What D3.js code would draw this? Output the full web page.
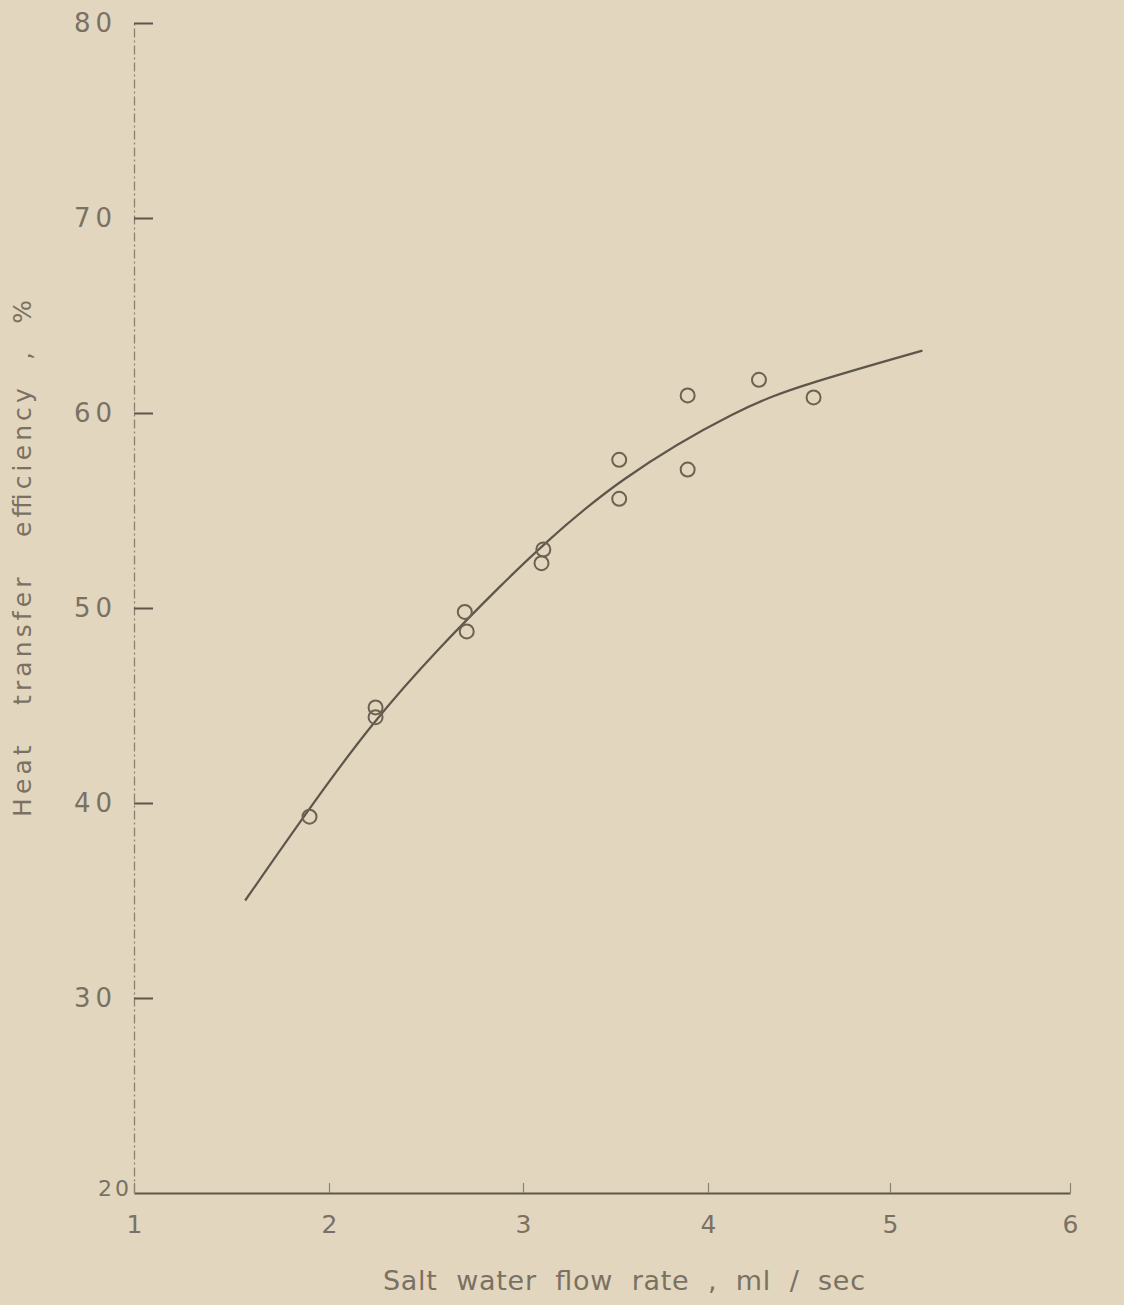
<!DOCTYPE html>
<html>
<head>
<meta charset="utf-8">
<script src="https://cdn.jsdelivr.net/npm/d3@7"></script>
<style>
  html, body { margin: 0; padding: 0; background: #e2d6bf; }
  text { font-family: "DejaVu Sans", sans-serif; fill: #7a7163; white-space: pre; }
</style>
</head>
<body>
<svg id="chart" width="1124" height="1305"></svg>
<script>
// tick values
const xTicks = [1, 2, 3, 4, 5, 6];
const yTicks = [20, 30, 40, 50, 60, 70, 80];

// measured points
const pointX = [1.90, 2.24, 2.24, 2.70, 2.71, 3.11, 3.10, 3.52, 3.52, 3.89, 3.89, 4.28, 4.58];
const pointY = [39.3, 44.9, 44.4, 49.8, 48.8, 53.0, 52.3, 57.6, 55.6, 60.9, 57.1, 61.7, 60.8];

// hand drawn fitted curve
const curveX = [1.57, 1.89, 2.22, 2.57, 2.90, 3.08, 3.51, 4.18, 4.54, 5.18];
const curveY = [35.0, 39.6, 44.1, 48.0, 51.3, 53.0, 56.6, 60.3, 61.5, 63.2];

function drawChart() {
  const svg = d3.select("#chart");
  svg.selectAll("*").remove();

  // the original axis was inked by hand, so x spacing is a bit uneven
  const x = d3.scaleLinear()
      .domain(xTicks)
      .range([134, 329, 523, 708, 890, 1070]);

  const y = d3.scaleLinear()
      .domain([20, 80])
      .range([1193, 23]);

  const ink = "#5e564b";

  // x axis
  const gx = svg.append("g")
    .attr("transform", `translate(0,${y(20)})`)
    .call(d3.axisBottom(x).tickValues(xTicks).tickFormat(d3.format("d"))
      .tickSizeInner(-10).tickSizeOuter(0).tickPadding(22));
  gx.select(".domain").attr("stroke", ink).attr("stroke-width", 2);
  gx.selectAll(".tick line").attr("stroke", "#8a8172").attr("stroke-width", 1.2);
  gx.selectAll(".tick text")
    .attr("fill", "#7a7163")
    .style("font-size", "25px");

  // y axis
  const gy = svg.append("g")
    .attr("transform", `translate(${x(1)},0)`)
    .call(d3.axisLeft(y).tickValues(yTicks.filter(d => d > 20)).tickFormat(d3.format("d"))
      .tickSizeInner(-19).tickSizeOuter(0).tickPadding(17));
  gy.select(".domain")
    .attr("stroke", "#8a8172")
    .attr("stroke-width", 1.3)
    .attr("stroke-dasharray", "9,3,2,3");
  gy.selectAll(".tick line").attr("stroke", ink).attr("stroke-width", 2);
  gy.selectAll(".tick text")
    .attr("fill", "#7a7163")
    .style("font-size", "26px")
    .style("letter-spacing", "5px");

  // "20" label sits at the corner
  svg.append("text")
    .attr("x", x(1) - 2)
    .attr("y", y(20) + 3)
    .attr("text-anchor", "end")
    .style("font-size", "22px")
    .style("letter-spacing", "3px")
    .text("20");

  // axis titles
  svg.append("text")
    .attr("x", 383)
    .attr("y", 1290)
    .attr("textLength", 482)
    .attr("lengthAdjust", "spacing")
    .style("font-size", "27px")
    .text("Salt  water  flow  rate  ,  ml  /  sec");

  svg.append("text")
    .attr("transform", "translate(31,817) rotate(-90)")
    .attr("textLength", 517)
    .attr("lengthAdjust", "spacing")
    .style("font-size", "25px")
    .text("Heat   transfer   efficiency  ,  %");

  // fitted curve
  const line = d3.line()
    .x(i => x(curveX[i]))
    .y(i => y(curveY[i]))
    .curve(d3.curveBasis);

  svg.append("path")
    .datum(d3.range(curveX.length))
    .attr("d", line)
    .attr("fill", "none")
    .attr("stroke", ink)
    .attr("stroke-width", 2.2);

  // open circle markers
  svg.selectAll(".pt")
    .data(d3.range(pointX.length))
    .enter()
    .append("circle")
    .attr("class", "pt")
    .attr("cx", i => x(pointX[i]))
    .attr("cy", i => y(pointY[i]))
    .attr("r", 7)
    .attr("fill", "none")
    .attr("stroke", "#6b6252")
    .attr("stroke-width", 2);
}

drawChart();
</script>
</body>
</html>
